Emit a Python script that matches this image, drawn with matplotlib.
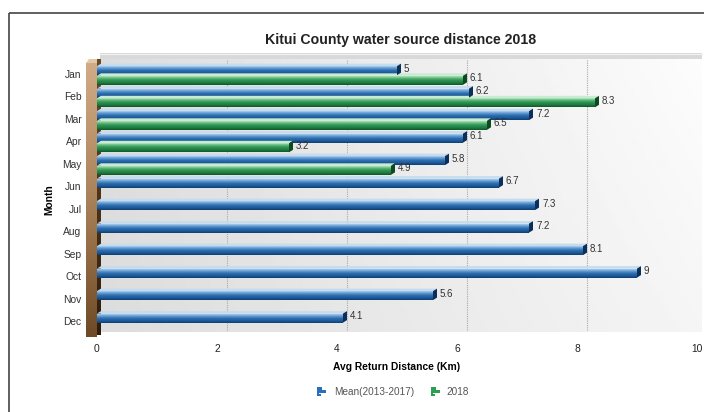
import numpy as np
import matplotlib
matplotlib.use("Agg")
import matplotlib.pyplot as plt
from matplotlib.colors import LinearSegmentedColormap
from matplotlib.patches import Polygon, Rectangle
from matplotlib.transforms import offset_copy

plt.rcParams['font.family'] = ['Liberation Sans', 'DejaVu Sans']

months = ["Jan", "Feb", "Mar", "Apr", "May", "Jun", "Jul", "Aug", "Sep", "Oct", "Nov", "Dec"]
mean_2013_2017 = [5, 6.2, 7.2, 6.1, 5.8, 6.7, 7.3, 7.2, 8.1, 9, 5.6, 4.1]
y2018 = [6.1, 8.3, 6.5, 3.2, 4.9, None, None, None, None, None, None, None]
x_ticks = [0, 2, 4, 6, 8, 10]

W, H = 704, 412
fig = plt.figure(figsize=(W / 100, H / 100), dpi=100)
fig.patch.set_facecolor("white")

# --- decoration layer in pixel coordinates (frame, back wall, left wall) ---
deco = fig.add_axes([0, 0, 1, 1], zorder=0)
deco.set_xlim(0, W); deco.set_ylim(H, 0); deco.axis("off")

deco.plot([9, 9], [13, H], color="#444444", lw=1.2, solid_capstyle="butt")
deco.plot([9, W], [13, 13], color="#444444", lw=1.2, solid_capstyle="butt")

# back wall with a soft diagonal gradient
gx = np.linspace(0, 1, 200)[None, :]
gy = np.linspace(0, 1, 100)[:, None]
wall = np.clip(0.865 + 0.125 * gx - 0.03 * gy * gx, 0, 1)
deco.imshow(wall, cmap="gray", vmin=0, vmax=1, extent=(100, 702, 332, 59),
            aspect="auto", interpolation="bilinear", zorder=1)
deco.add_patch(Rectangle((100, 53), 602, 6, color="#d9d9d9", lw=0, zorder=2))
deco.plot([100, 702], [53.5, 53.5], color="#f2f2f2", lw=0.8, zorder=3)

# left wall (brown 3D block)
brown = LinearSegmentedColormap.from_list("brown", ["#d0ab85", "#a98158", "#6e4a26"])
deco.imshow(np.linspace(0, 1, 100)[:, None], cmap=brown, extent=(86, 97, 337, 63),
            aspect="auto", interpolation="bilinear", zorder=3)
deco.add_patch(Polygon([(86, 63), (97, 63), (100, 59), (89, 59)], closed=True,
                       color="#e2c9a6", lw=0, zorder=3))
side = LinearSegmentedColormap.from_list("side", ["#6a4a28", "#2e1d0c"])
deco.imshow(np.linspace(0, 1, 100)[:, None], cmap=side, extent=(97, 100.5, 335, 59),
            aspect="auto", interpolation="bilinear", zorder=3)

# --- main chart axes (front plane) ---
ax = fig.add_axes([97 / W, 1 - 337 / H, 600 / W, 274 / H], zorder=2)
ax.patch.set_alpha(0)
for s in ax.spines.values():
    s.set_visible(False)

px_x = 10 / 600          # data units per pixel along x
px_y = 12.18 / 274       # data units per pixel along y

# dotted grid lines on the back wall
grid_tr = offset_copy(ax.get_xaxis_transform(), fig=fig, x=10, y=0, units="dots")
for v in x_ticks[1:-1]:
    ax.plot([v, v], [0.025, 1.015], transform=grid_tr, color="#aaaaaa", lw=0.8,
            ls=(0, (1, 1)), clip_on=False, zorder=1)

blue_cm = LinearSegmentedColormap.from_list(
    "b", ["#a9cbe9", "#5a97d0", "#2b6cad", "#1d5a9a", "#0f3d70"])
green_cm = LinearSegmentedColormap.from_list(
    "g", ["#b2e2bf", "#56b474", "#2b9150", "#1f7c40", "#115528"])

bar_h = 0.40
label_tr = offset_copy(ax.transData, fig=fig, x=7, y=2, units="dots")


def draw_bar(yc, v, cmap, cap_color, top_color):
    y_top, y_bot = yc - bar_h / 2, yc + bar_h / 2
    ax.imshow(np.linspace(0, 1, 50)[:, None], cmap=cmap, extent=(0, v, y_bot, y_top),
              aspect="auto", interpolation="bilinear", zorder=3)
    ax.add_patch(Polygon([(0, y_top), (v, y_top), (v + 4 * px_x, y_top - 2.5 * px_y),
                          (4 * px_x, y_top - 2.5 * px_y)], closed=True,
                         color=top_color, lw=0, zorder=3))
    ax.add_patch(Polygon([(v, y_bot), (v, y_top), (v + 4 * px_x, y_top - 2.5 * px_y),
                          (v + 4 * px_x, y_bot - 2.5 * px_y)], closed=True,
                         color=cap_color, lw=0, zorder=4))
    ax.text(v, yc, f"{v:g}", transform=label_tr, fontsize=7, color="#333333",
            va="center", ha="left", zorder=5)


for i, (m, g) in enumerate(zip(mean_2013_2017, y2018)):
    draw_bar(i - 0.13, m, blue_cm, "#0c2f5a", "#c4dcf0")
    if g is not None:
        draw_bar(i + 0.30, g, green_cm, "#0d4a22", "#c8ecd2")

ax.set_xlim(0, 10)
ax.set_ylim(11.71, -0.47)
ax.set_yticks(range(len(months)))
ax.set_yticklabels(months)
ax.set_xticks(x_ticks)
ax.set_xticklabels([str(t) for t in x_ticks])
ax.tick_params(axis="y", length=0, pad=11, labelsize=7.4, labelcolor="#333333")
ax.tick_params(axis="x", length=0, pad=5, labelsize=7.4, labelcolor="#222222")

ax.set_xlabel("Avg Return Distance (Km)", fontsize=7.4, fontweight="bold", labelpad=6)
ax.set_ylabel("Month", fontsize=7.4, fontweight="bold", labelpad=6)

fig.text(401 / W, 1 - 40 / H, "Kitui County water source distance 2018",
         ha="center", va="center", fontsize=10.2, fontweight="bold", color="#222222")

# legend with small bar-chart icons
def legend_icon(x0, y0, color):
    for k, wdt in enumerate([5, 9, 4]):
        deco.add_patch(Rectangle((x0, y0 + k * 3.4), wdt, 2.6, color=color, lw=0, zorder=4))
    deco.add_patch(Rectangle((x0, y0), 1.6, 9.4, color=color, lw=0, zorder=4))


legend_icon(317, 387, "#2a6fbd")
deco.text(334, 392, "Mean(2013-2017)", fontsize=7.2, color="#555555", va="center", ha="left")
legend_icon(431, 387, "#2aa050")
deco.text(446, 392, "2018", fontsize=7.2, color="#555555", va="center", ha="left")

fig.savefig("out.png", dpi=100)
